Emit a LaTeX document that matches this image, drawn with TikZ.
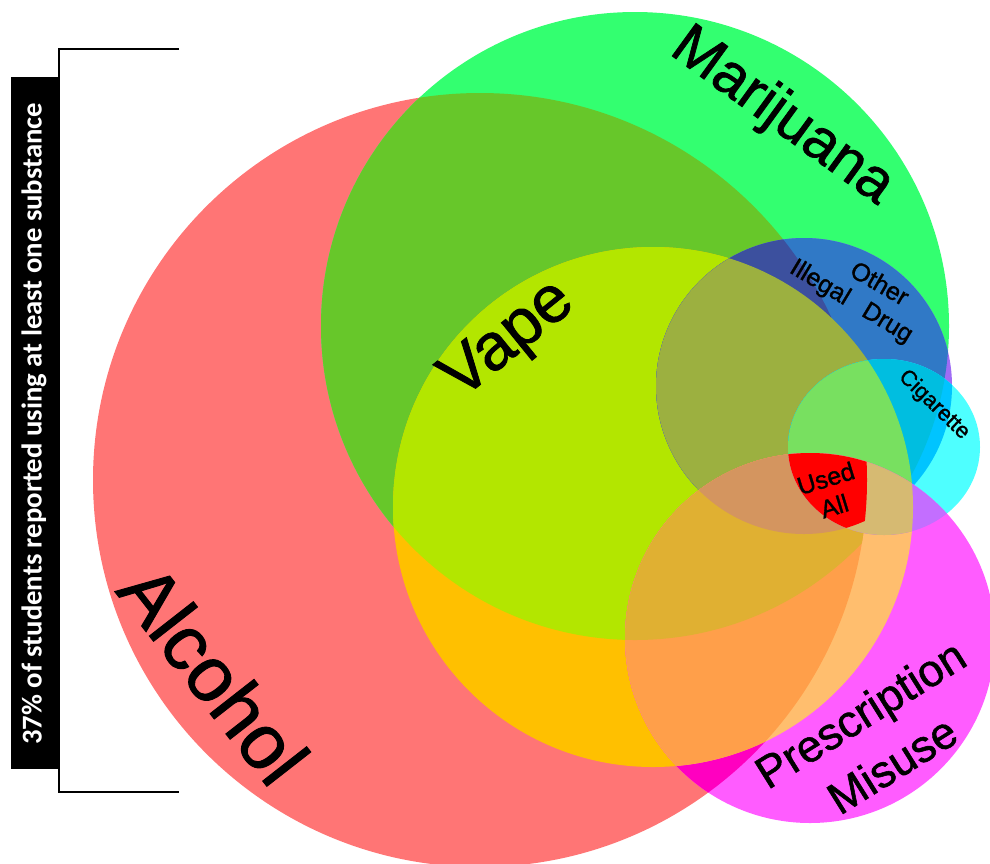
\documentclass[tikz,border=0pt]{standalone}
\usepackage{fontspec}
\setmainfont{Liberation Sans}[FakeBold=1.2]
\newfontfamily\lblfont{Liberation Sans}[FakeBold=1.2]
\newfontfamily\barfont{Carlito}
\definecolor{cA}{HTML}{FF7575}
\definecolor{cM}{HTML}{33FF70}
\definecolor{cAM}{HTML}{67C72A}
\definecolor{cAV}{HTML}{FFC000}
\definecolor{cMV}{HTML}{B3E600}
\definecolor{cO}{HTML}{9F6CF5}
\definecolor{cOM}{HTML}{3079C6}
\definecolor{cOMA}{HTML}{3C509E}
\definecolor{cOV}{HTML}{9CB040}
\definecolor{cC}{HTML}{4EFFFF}
\definecolor{cCO}{HTML}{00C4FF}
\definecolor{cCOM}{HTML}{00BEE0}
\definecolor{cCV}{HTML}{78E060}
\definecolor{cP}{HTML}{FF5CFF}
\definecolor{cPA}{HTML}{FF00C0}
\definecolor{cPV}{HTML}{FFBE6E}
\definecolor{cPVA}{HTML}{FF9F4A}
\definecolor{cPVAM}{HTML}{E0B032}
\definecolor{cPO}{HTML}{D4955F}
\definecolor{cPC}{HTML}{C36EFF}
\definecolor{cPCV}{HTML}{D6BA72}
\definecolor{cAll}{HTML}{FF0000}
\begin{document}
\begin{tikzpicture}[x=1pt,y=-1pt,
  lbl/.style={inner sep=0pt, text=black, align=center},
  bracketline/.style={line width=2pt, black}]
\useasboundingbox (0,0) rectangle (990,863);
\def\shA{(480,480) circle [radius=387pt]}
\def\shM{(635,326) circle [radius=314pt]}
\def\shV{(653,507) circle [radius=260pt]}
\def\shO{(804,386) circle [radius=148pt]}
\def\shC{(884,447) ellipse [x radius=96pt, y radius=88pt]}
\def\shP{(810,638) circle [radius=185pt]}
% base sets
\fill[cA] \shA;
\fill[cM] \shM;
\begin{scope}\clip \shA; \fill[cAM] \shM; \end{scope}
\begin{scope}\clip \shA; \fill[cAV] \shV; \end{scope}
\begin{scope}\clip \shM; \fill[cMV] \shV; \end{scope}
% other illegal drug
\fill[cO] \shO;
\begin{scope}\clip \shM; \fill[cOM] \shO; \end{scope}
\begin{scope}\clip \shM; \clip \shA; \fill[cOMA] \shO; \end{scope}
\begin{scope}\clip \shV; \fill[cOV] \shO; \end{scope}
% cigarette
\fill[cC] \shC;
\begin{scope}\clip \shO; \fill[cCO] \shC; \end{scope}
\begin{scope}\clip \shO; \clip \shM; \fill[cCOM] \shC; \end{scope}
\begin{scope}\clip \shV; \fill[cCV] \shC; \end{scope}
% prescription
\fill[cP] \shP;
\begin{scope}\clip \shA; \fill[cPA] \shP; \end{scope}
\begin{scope}\clip \shV; \fill[cPV] \shP; \end{scope}
\begin{scope}\clip \shV; \clip \shA; \fill[cPVA] \shP; \end{scope}
\begin{scope}\clip \shV; \clip \shA; \clip \shM; \fill[cPVAM] \shP; \end{scope}
\begin{scope}\clip \shO; \clip \shV; \fill[cPO] \shP; \end{scope}
\begin{scope}\clip \shC; \fill[cPC] \shP; \end{scope}
\begin{scope}\clip \shC; \clip \shV; \fill[cPCV] \shP; \end{scope}
% used all
\begin{scope}\clip \shA; \clip \shM; \clip \shV; \clip \shO; \clip \shC; \fill[cAll] \shP; \end{scope}

% labels
\node[lbl, rotate=-36, font=\lblfont\fontsize{59}{59}\selectfont] (marijuana) at (782,117) {Marijuana};
\node[lbl, rotate=39, font=\lblfont\fontsize{66}{66}\selectfont] (vape) at (509,341) {Vape};
\node[lbl, rotate=-52, font=\lblfont\fontsize{77}{77}\selectfont] (alcohol) at (214,674) {Alcohol};
\node[lbl, rotate=32, font=\lblfont\fontsize{45}{60}\selectfont] (prescription) at (876,739) {Prescription\\Misuse};
\node[lbl, rotate=-30, font=\lblfont\fontsize{25}{25}\selectfont] (other) at (880,283) {Other};
\node[lbl, rotate=-31, font=\lblfont\fontsize{25}{25}\selectfont] (illegal) at (851,302) {Illegal\hspace{0.75em}Drug};
\node[lbl, rotate=-44, font=\lblfont\fontsize{22}{22}\selectfont] (cigarette) at (934,405) {Cigarette};
\node[lbl, rotate=17, font=\lblfont\fontsize{25}{29}\selectfont] (usedall) at (830,492) {Used\\All};

% left bar and bracket
\fill[black] (11,77) rectangle (58,769);
\node[inner sep=0pt, rotate=90, text=white, font=\barfont\bfseries\fontsize{28.7}{28.7}\selectfont] (bartext) at (34,424) {37\% of students reported using at least one substance};
\coordinate (bt) at (59,49);
\coordinate (bb) at (59,792);
\coordinate (tt) at (179,49);
\coordinate (tb) at (179,792);
\draw[bracketline] (tt) -- (bt) -- (bb) -- (tb);
\end{tikzpicture}
\end{document}
